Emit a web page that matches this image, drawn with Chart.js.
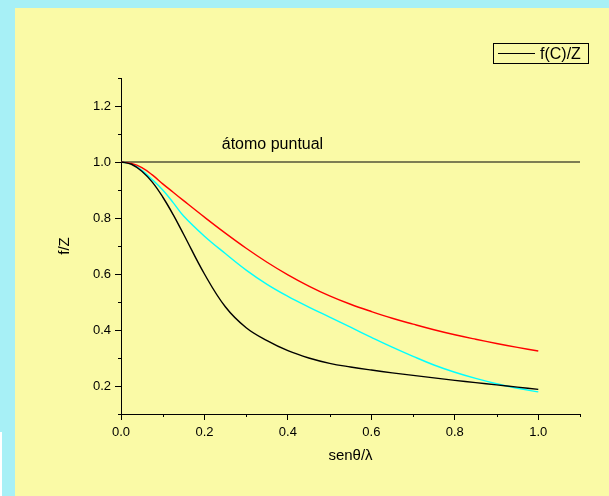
<!DOCTYPE html>
<html>
<head>
<meta charset="utf-8">
<script src="https://cdn.jsdelivr.net/npm/chart.js@4/dist/chart.umd.min.js"></script>
<style>
  html, body { margin: 0; padding: 0; }
  body { width: 609px; height: 496px; background: #a7f0f6; position: relative; overflow: hidden; }
  #panel { position: absolute; left: 15px; top: 8px; width: 594px; height: 488px; background: #fafaa6; }
  #strip { position: absolute; left: 0; top: 432px; width: 2px; height: 64px; background: #ffffff; }
  canvas { display: block; }
</style>
</head>
<body>
<div id="strip"></div>
<div id="panel"><canvas id="c" width="594" height="488"></canvas></div>
<script>
// ---- data ----
const xValues = [0, 0.025, 0.05, 0.075, 0.1, 0.125, 0.15, 0.2, 0.25, 0.3, 0.35, 0.4, 0.45, 0.5, 0.55, 0.6, 0.65, 0.7, 0.75, 0.8, 0.85, 0.9, 0.95, 1.0];
const fCarbon = [1.0, 0.992, 0.967, 0.928, 0.875, 0.812, 0.742, 0.600, 0.483, 0.408, 0.362, 0.326, 0.300, 0.281, 0.268, 0.257, 0.247, 0.238, 0.229, 0.220, 0.212, 0.204, 0.196, 0.188];
const fRed    = [1.0, 0.995, 0.980, 0.954, 0.922, 0.892, 0.862, 0.803, 0.746, 0.692, 0.642, 0.597, 0.557, 0.522, 0.492, 0.466, 0.442, 0.421, 0.401, 0.383, 0.367, 0.352, 0.338, 0.325];
const fCyan   = [1.0, 0.993, 0.970, 0.937, 0.900, 0.855, 0.807, 0.735, 0.673, 0.614, 0.563, 0.520, 0.482, 0.446, 0.410, 0.374, 0.339, 0.306, 0.275, 0.249, 0.227, 0.208, 0.192, 0.179];
const pointAtomX = [0, 1.1];
const pointAtomY = [1.0, 1.0];
const xTicks = [0, 0.2, 0.4, 0.6, 0.8, 1.0];
const yTicks = [0.2, 0.4, 0.6, 0.8, 1.0, 1.2];
const xMinor = [0.1, 0.3, 0.5, 0.7, 0.9, 1.1];
const yMinor = [0.1, 0.3, 0.5, 0.7, 0.9, 1.1, 1.3];
const legendLabel = 'f(C)/Z';
const annotationText = 'átomo puntual';
const annotationPos = { x: 0.363, y: 1.048 };
const xTitle = 'senθ/λ';
const yTitle = 'f/Z';

const pts = (xs, ys) => xs.map((x, i) => ({ x: x, y: ys[i] }));
const FONT = '"Liberation Sans", Arial, Helvetica, sans-serif';

const extras = {
  id: 'extras',
  afterDraw(chart) {
    const ctx = chart.ctx;
    const xs = chart.scales.x, ys = chart.scales.y;
    const area = chart.chartArea;
    ctx.save();
    ctx.strokeStyle = '#000';
    ctx.lineWidth = 1;
    // minor ticks
    ctx.beginPath();
    xMinor.forEach(v => {
      const px = Math.round(xs.getPixelForValue(v)) + 0.5;
      ctx.moveTo(px, area.bottom);
      ctx.lineTo(px, area.bottom + 3);
    });
    yMinor.forEach(v => {
      const py = Math.round(ys.getPixelForValue(v)) + 0.5;
      ctx.moveTo(area.left, py);
      ctx.lineTo(area.left - 3, py);
    });
    ctx.stroke();
    // annotation
    ctx.fillStyle = '#000';
    ctx.font = '16px ' + FONT;
    ctx.textAlign = 'center';
    ctx.textBaseline = 'alphabetic';
    ctx.fillText(annotationText, xs.getPixelForValue(annotationPos.x), ys.getPixelForValue(annotationPos.y));
    // legend box
    ctx.strokeRect(478.5, 35.5, 95, 20);
    ctx.beginPath();
    ctx.moveTo(483, 45.5);
    ctx.lineTo(520, 45.5);
    ctx.stroke();
    ctx.textAlign = 'left';
    ctx.font = '16px ' + FONT;
    ctx.fillText(legendLabel, 525, 51);
    ctx.restore();
  }
};

new Chart(document.getElementById('c'), {
  type: 'line',
  data: {
    datasets: [
      { label: legendLabel, data: pts(xValues, fCarbon), borderColor: '#000000', borderWidth: 1.4, pointRadius: 0, tension: 0.4, fill: false },
      { label: 'red', data: pts(xValues, fRed), borderColor: '#ff0000', borderWidth: 1.4, pointRadius: 0, tension: 0.4, fill: false },
      { label: 'cyan', data: pts(xValues, fCyan), borderColor: '#00ffff', borderWidth: 1.4, pointRadius: 0, tension: 0.4, fill: false },
      { label: annotationText, data: pts(pointAtomX, pointAtomY), borderColor: '#000000', borderWidth: 1.2, pointRadius: 0, tension: 0, fill: false }
    ]
  },
  options: {
    responsive: false,
    animation: false,
    layout: { padding: { left: 0, top: 70, right: 29, bottom: 0 } },
    plugins: { legend: { display: false }, tooltip: { enabled: false } },
    scales: {
      x: {
        type: 'linear', min: 0, max: 1.1,
        afterBuildTicks: s => { s.ticks = xTicks.map(v => ({ value: v })); },
        afterFit: s => { s.height = 82; },
        grid: { drawOnChartArea: false, tickLength: 6, tickColor: '#000', tickWidth: 1 },
        border: { display: true, color: '#000', width: 1 },
        ticks: { color: '#000', font: { family: FONT, size: 13 }, padding: 5, maxRotation: 0, callback: v => v.toFixed(1) },
        title: { display: true, text: xTitle, color: '#000', font: { family: FONT, size: 15 }, padding: { top: 0, bottom: 31 } }
      },
      y: {
        type: 'linear', min: 0.1, max: 1.3,
        afterBuildTicks: s => { s.ticks = yTicks.map(v => ({ value: v })); },
        afterFit: s => { s.width = 106; },
        grid: { drawOnChartArea: false, tickLength: 6, tickColor: '#000', tickWidth: 1 },
        border: { display: true, color: '#000', width: 1 },
        ticks: { color: '#000', font: { family: FONT, size: 13 }, padding: 4, callback: v => v.toFixed(1) },
        title: { display: true, text: yTitle, color: '#000', font: { family: FONT, size: 15 }, padding: { top: 41, bottom: 0 } }
      }
    }
  },
  plugins: [extras]
});
</script>
</body>
</html>
